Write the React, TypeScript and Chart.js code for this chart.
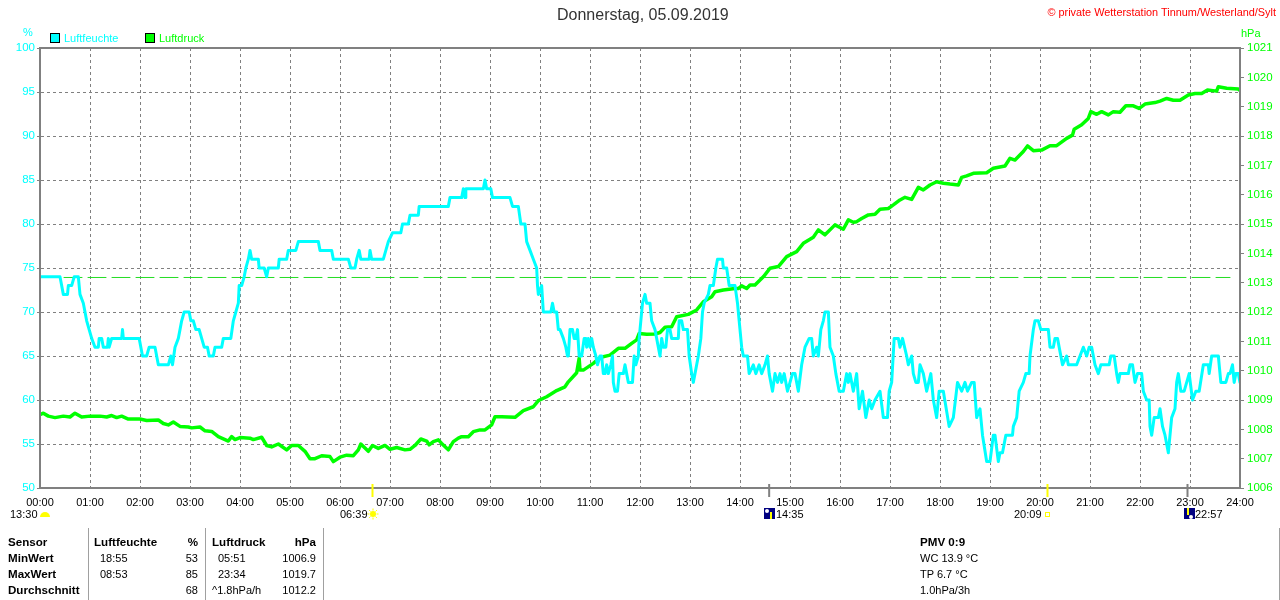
import { FC, ReactElement, useEffect, useRef } from 'react';
import { Chart, registerables } from 'chart.js';

Chart.register(...registerables);

// [minute of day, %]
const humidity: [number, number][] = [
  [0, 74], [24, 74], [28, 72], [33, 72], [34, 73], [38, 73], [41, 74], [46, 74], [48, 72], [52, 71], [56, 69], [62, 67], [66, 66],
  [70, 66], [71, 67], [74, 67], [76, 66], [81, 66], [82, 67], [83, 66], [86, 67], [98, 67], [99, 68], [100, 67], [119, 67],
  [123, 65], [128, 65], [131, 66], [138, 66], [142, 64], [154, 64], [157, 65], [159, 64], [162, 66], [166, 67], [168, 68],
  [170, 69], [173, 70], [179, 70], [181, 69], [184, 69], [187, 68], [191, 68], [194, 67], [197, 66], [201, 66], [203, 65],
  [208, 65], [210, 66], [218, 66], [220, 67], [229, 67], [232, 69], [235, 70], [238, 71], [239, 73], [242, 73], [245, 74],
  [247, 75], [250, 76], [252, 77], [254, 76], [262, 76], [263, 75], [269, 75], [272, 74], [274, 75], [286, 75], [287, 76],
  [296, 76], [298, 77], [307, 77], [310, 78], [334, 78], [336, 77], [350, 77], [352, 76], [370, 76], [373, 75], [378, 75],
  [380, 76], [383, 77], [385, 76], [395, 76], [396, 77], [398, 76], [412, 76], [415, 77], [418, 78], [423, 79], [433, 79],
  [435, 80], [442, 80], [444, 81], [454, 81], [455, 82], [490, 82], [492, 83], [506, 83], [508, 84], [510, 83], [511, 84],
  [532, 84], [534, 85], [536, 84], [541, 84], [543, 83], [564, 83], [567, 82], [574, 82], [577, 80], [582, 80], [584, 78],
  [588, 77], [592, 76], [596, 75], [597, 73], [598, 72], [602, 73], [604, 70], [613, 70], [615, 71], [617, 70], [620, 70],
  [622, 68], [624, 68], [628, 67], [631, 66], [633, 65], [634, 65], [636, 68], [639, 68], [641, 67], [643, 67], [645, 68],
  [647, 65], [650, 65], [653, 67], [655, 67], [656, 66], [658, 67], [660, 66], [662, 67], [664, 66], [667, 65], [669, 64],
  [672, 65], [674, 65], [676, 63], [678, 63], [680, 64], [682, 63], [685, 64], [687, 65], [688, 62], [690, 61], [693, 61],
  [695, 63], [700, 63], [702, 64], [704, 63], [706, 62], [711, 62], [713, 65], [715, 64], [718, 65], [719, 67], [721, 69],
  [723, 71], [726, 72], [728, 71], [732, 71], [734, 69], [738, 68], [742, 66], [744, 65], [746, 67], [748, 66], [751, 66],
  [753, 68], [756, 68], [758, 67], [766, 67], [767, 69], [770, 69], [772, 68], [777, 68], [779, 65], [782, 63], [784, 62],
  [786, 63], [790, 65], [793, 67], [795, 70], [797, 71], [802, 72], [804, 73], [808, 73], [811, 75], [813, 76], [819, 76],
  [820, 75], [824, 75], [827, 73], [834, 73], [837, 71], [839, 69], [842, 66], [844, 65], [846, 65], [849, 65], [851, 63],
  [856, 64], [859, 63], [863, 64], [866, 63], [870, 64], [873, 65], [875, 63], [879, 61], [882, 63], [885, 62], [888, 63],
  [890, 62], [893, 63], [897, 61], [900, 62], [903, 63], [906, 63], [910, 61], [914, 64], [918, 66], [923, 67], [926, 67],
  [928, 65], [932, 66], [934, 65], [937, 68], [940, 69], [942, 70], [946, 70], [948, 66], [952, 65], [955, 63], [959, 61],
  [964, 61], [968, 63], [970, 62], [972, 63], [976, 61], [980, 63], [983, 59], [987, 61], [991, 58], [995, 60], [998, 59],
  [1002, 60], [1008, 61], [1012, 58], [1017, 58], [1019, 61], [1022, 62], [1025, 67], [1030, 67], [1032, 66], [1035, 67],
  [1040, 65], [1042, 64], [1046, 65], [1048, 63], [1051, 62], [1054, 62], [1056, 64], [1060, 63], [1064, 61], [1069, 63],
  [1072, 60], [1076, 58], [1079, 61], [1084, 61], [1091, 57], [1096, 58], [1101, 62], [1106, 61], [1110, 62], [1113, 61],
  [1118, 62], [1121, 62], [1124, 58], [1128, 59], [1131, 56], [1136, 53], [1140, 53], [1144, 56], [1146, 56], [1150, 53],
  [1152, 54], [1155, 54], [1159, 56], [1167, 56], [1168, 57], [1172, 58], [1175, 61], [1180, 62], [1183, 63], [1187, 63],
  [1188, 65], [1192, 68], [1194, 69], [1198, 69], [1201, 68], [1210, 68], [1212, 66], [1216, 66], [1218, 67], [1221, 67],
  [1225, 65], [1227, 64], [1232, 65], [1234, 64], [1244, 64], [1248, 65], [1252, 66], [1256, 65], [1259, 66], [1262, 66],
  [1266, 64], [1270, 63], [1273, 64], [1283, 64], [1285, 65], [1289, 65], [1292, 63], [1294, 62], [1296, 63], [1306, 63],
  [1308, 64], [1311, 64], [1314, 62], [1317, 63], [1322, 63], [1324, 61], [1328, 60], [1331, 60], [1332, 57], [1334, 56],
  [1337, 58], [1342, 58], [1344, 59], [1347, 57], [1350, 56], [1354, 54], [1358, 58], [1362, 59], [1364, 62], [1366, 63],
  [1369, 61], [1373, 61], [1376, 62], [1379, 63], [1383, 60], [1387, 61], [1391, 61], [1396, 64], [1402, 64], [1403, 63],
  [1406, 65], [1414, 65], [1417, 62], [1423, 62], [1426, 63], [1428, 63], [1431, 64], [1433, 62], [1435, 63], [1438, 63],
  [1440, 62]
];

// [minute of day, hPa]
const pressure: [number, number][] = [
  [0, 1008.5], [4, 1008.55], [10, 1008.45], [18, 1008.4], [28, 1008.45], [36, 1008.42], [42, 1008.55], [50, 1008.42],
  [60, 1008.45], [72, 1008.45], [80, 1008.42], [86, 1008.47], [92, 1008.4], [98, 1008.45], [106, 1008.35], [120, 1008.35],
  [128, 1008.3], [142, 1008.32], [148, 1008.2], [154, 1008.15], [160, 1008.25], [168, 1008.1], [178, 1008.08], [182, 1008.05],
  [192, 1008.08], [198, 1007.95], [206, 1007.93], [214, 1007.75], [226, 1007.6], [230, 1007.75], [234, 1007.65], [240, 1007.72],
  [252, 1007.7], [256, 1007.65], [266, 1007.73], [272, 1007.45], [278, 1007.4], [286, 1007.5], [296, 1007.3], [302, 1007.45],
  [310, 1007.45], [318, 1007.25], [324, 1007.0], [330, 1007.0], [338, 1007.1], [348, 1007.07], [352, 1006.9], [360, 1007.05],
  [368, 1007.12], [376, 1007.1], [382, 1007.3], [385, 1007.5], [394, 1007.25], [399, 1007.45], [406, 1007.35], [414, 1007.45],
  [420, 1007.32], [428, 1007.38], [438, 1007.3], [444, 1007.32], [450, 1007.45], [457, 1007.67], [464, 1007.6], [467, 1007.47],
  [472, 1007.58], [478, 1007.64], [482, 1007.52], [490, 1007.3], [496, 1007.58], [502, 1007.7], [506, 1007.75], [514, 1007.75],
  [520, 1007.92], [528, 1007.98], [534, 1007.98], [542, 1008.15], [546, 1008.43], [554, 1008.43], [570, 1008.41], [580, 1008.64],
  [592, 1008.77], [598, 1008.98], [608, 1009.11], [620, 1009.32], [630, 1009.45], [634, 1009.62], [644, 1009.93], [647, 1010.42],
  [648, 1010.02], [652, 1010.02], [664, 1010.25], [672, 1010.45], [684, 1010.53], [694, 1010.76], [702, 1010.76], [710, 1010.93],
  [716, 1011.05], [719, 1011.27], [728, 1011.24], [738, 1011.25], [744, 1011.3], [750, 1011.48], [758, 1011.5], [764, 1011.84],
  [778, 1011.92], [788, 1012.07], [796, 1012.35], [806, 1012.52], [810, 1012.69], [820, 1012.75], [834, 1012.8], [838, 1012.8],
  [842, 1012.89], [848, 1012.8], [852, 1012.92], [858, 1012.92], [868, 1013.2], [876, 1013.49], [886, 1013.55], [896, 1013.89],
  [908, 1014.06], [916, 1014.34], [928, 1014.55], [934, 1014.8], [942, 1014.63], [954, 1014.97], [964, 1014.82], [970, 1015.14],
  [976, 1015.06], [980, 1015.08], [986, 1015.19], [994, 1015.31], [1002, 1015.33], [1008, 1015.5], [1018, 1015.53], [1024, 1015.65],
  [1032, 1015.82], [1038, 1015.91], [1046, 1015.84], [1054, 1016.25], [1060, 1016.16], [1068, 1016.33], [1076, 1016.44],
  [1084, 1016.39], [1092, 1016.36], [1102, 1016.33], [1106, 1016.59], [1112, 1016.64], [1120, 1016.73], [1136, 1016.75],
  [1144, 1016.9], [1158, 1016.98], [1164, 1017.24], [1170, 1017.18], [1180, 1017.47], [1185, 1017.66], [1192, 1017.5],
  [1202, 1017.52], [1212, 1017.67], [1220, 1017.67], [1232, 1017.92], [1239, 1018.03], [1241, 1018.23], [1250, 1018.38],
  [1258, 1018.6], [1261, 1018.83], [1268, 1018.74], [1274, 1018.83], [1282, 1018.72], [1288, 1018.83], [1296, 1018.81],
  [1303, 1019.03], [1312, 1019.03], [1319, 1018.94], [1326, 1019.09], [1338, 1019.14], [1344, 1019.19], [1352, 1019.28],
  [1360, 1019.22], [1368, 1019.22], [1378, 1019.4], [1386, 1019.45], [1394, 1019.45], [1401, 1019.57], [1412, 1019.53],
  [1414, 1019.68], [1424, 1019.63], [1438, 1019.6], [1440, 1019.55]
];

const referenceLine: [number, number][] = [[0, 1013.177], [1428, 1013.177]];
const sunMoonTicks = [
  { minute: 399, color: '#ffff00' },
  { minute: 875, color: '#808080' },
  { minute: 1209, color: '#ffff00' },
  { minute: 1377, color: '#808080' }
];

const GREY = '#808080';
const FONT = "'Liberation Sans', Arial, sans-serif";

const toPoints = (rows: [number, number][]) => rows.map(([x, y]) => ({ x, y }));
const hourLabel = (minute: number): string => `${String(minute / 60).padStart(2, '0')}:00`;

// frame, sun/moon ticks and the little icons under the axis
const framePlugin = {
  id: 'frame',
  afterDraw(chart: any) {
    const { ctx, chartArea: a, scales } = chart;
    ctx.save();
    ctx.strokeStyle = GREY;
    ctx.lineWidth = 2;
    ctx.strokeRect(a.left, a.top, a.right - a.left, a.bottom - a.top);
    sunMoonTicks.forEach((t) => {
      const px = scales.x.getPixelForValue(t.minute);
      ctx.fillStyle = t.color;
      ctx.fillRect(px - 1, a.bottom - 4, 2, 13);
    });

    ctx.fillStyle = '#ffff00';
    ctx.beginPath();
    ctx.arc(45, 517, 5, Math.PI, 0);
    ctx.fill();
    ctx.beginPath();
    ctx.arc(373, 514, 3, 0, Math.PI * 2);
    ctx.fill();
    ctx.strokeStyle = '#ffff00';
    ctx.lineWidth = 1;
    for (let i = 0; i < 8; i++) {
      const r = (i * Math.PI) / 4;
      ctx.beginPath();
      ctx.moveTo(373 + Math.cos(r) * 3.5, 514 + Math.sin(r) * 3.5);
      ctx.lineTo(373 + Math.cos(r) * 5.5, 514 + Math.sin(r) * 5.5);
      ctx.stroke();
    }
    ctx.strokeRect(1045.5, 512.5, 4, 4);

    [764, 1184].forEach((x, i) => {
      ctx.fillStyle = '#000080';
      ctx.fillRect(x, 508, 11, 11);
      ctx.fillStyle = '#ffffff';
      ctx.beginPath();
      ctx.arc(i === 0 ? x + 3 : x + 7, i === 0 ? 511 : 517, 2, 0, Math.PI * 2);
      ctx.fill();
      ctx.fillStyle = '#ffff00';
      ctx.fillRect(x + 6 - i * 3, i === 0 ? 512 : 508, 2, 7);
    });
    ctx.restore();
  }
};

const Txt: FC<{ x?: number; right?: number; y: number; size?: number; bold?: boolean; color?: string; text: string }> = ({
  x,
  right,
  y,
  size = 11,
  bold = false,
  color = '#000000',
  text
}): ReactElement => (
  <div
    style={{
      position: 'absolute',
      left: x,
      right: right !== undefined ? 1280 - right : undefined,
      top: y,
      transform: 'translateY(-50%)',
      font: `${bold ? 'bold ' : ''}${size}px ${FONT}`,
      color,
      whiteSpace: 'nowrap'
    }}
  >
    {text}
  </div>
);

const Swatch: FC<{ x: number; color: string }> = ({ x, color }): ReactElement => (
  <div
    style={{
      position: 'absolute',
      left: x,
      top: 33,
      width: 8,
      height: 8,
      background: color,
      border: '1px solid #000000'
    }}
  />
);

const App: FC = (): ReactElement => {
  const chartRef = useRef<HTMLCanvasElement | null>(null);

  useEffect(() => {
    if (!chartRef.current) return;
    const chart = new Chart(chartRef.current, {
      type: 'line',
      data: {
        datasets: [
          { label: 'Luftfeuchte', data: toPoints(humidity), yAxisID: 'y', borderColor: '#00ffff', borderWidth: 3 },
          { label: 'Luftdruck', data: toPoints(pressure), yAxisID: 'hpa', borderColor: '#00ff00', borderWidth: 3.5 },
          { label: 'Referenz', data: toPoints(referenceLine), yAxisID: 'hpa', borderColor: '#22dd22', borderWidth: 1, borderDash: [18, 6] }
        ]
      },
      options: {
        animation: false,
        responsive: false,
        devicePixelRatio: 1,
        layout: { padding: { top: 48 } },
        elements: { point: { radius: 0 }, line: { tension: 0, borderJoinStyle: 'round', borderCapStyle: 'round' } },
        plugins: { legend: { display: false }, title: { display: false }, tooltip: { enabled: false } },
        scales: {
          x: {
            type: 'linear',
            min: 0,
            max: 1440,
            afterFit: (s: any) => {
              s.height = 112;
            },
            ticks: {
              stepSize: 60,
              autoSkip: false,
              maxRotation: 0,
              padding: 8,
              color: '#000000',
              font: { family: FONT, size: 11 },
              callback: (v: any) => hourLabel(Number(v))
            },
            grid: { color: GREY, drawTicks: false, lineWidth: 1 },
            border: { color: GREY, width: 2, dash: [3, 3] }
          },
          y: {
            position: 'left',
            min: 50,
            max: 100,
            afterFit: (s: any) => {
              s.width = 40;
            },
            ticks: {
              stepSize: 5,
              padding: 2,
              color: '#00ffff',
              font: { family: FONT, size: 11.5 }
            },
            grid: { color: GREY, tickColor: GREY, tickLength: 3, lineWidth: 1 },
            border: { color: GREY, width: 2, dash: [3, 3] }
          },
          hpa: {
            position: 'right',
            min: 1006,
            max: 1021,
            afterFit: (s: any) => {
              s.width = 40;
            },
            ticks: {
              stepSize: 1,
              padding: 3,
              color: '#00ff00',
              font: { family: FONT, size: 11.5 },
              callback: (v: any) => String(v)
            },
            grid: { drawOnChartArea: false, tickColor: GREY, tickLength: 4 },
            border: { color: GREY, width: 2 }
          }
        }
      } as any,
      plugins: [framePlugin]
    });

    return () => {
      chart.destroy();
    };
  }, []);

  return (
    <div style={{ position: 'fixed', left: 0, top: 0, width: 1280, height: 600, overflow: 'hidden', background: '#ffffff' }}>
      <canvas ref={chartRef} width={1280} height={600} style={{ position: 'absolute', left: 0, top: 0 }} />

      <Txt x={557} y={15} size={16} color="#333333" text="Donnerstag, 05.09.2019" />
      <Txt right={1276} y={12} size={10.9} color="#ff0000" text="© private Wetterstation Tinnum/Westerland/Sylt" />
      <Txt x={23} y={32} color="#00ffff" text="%" />
      <Txt x={1241} y={33} color="#00ff00" text="hPa" />
      <Swatch x={50} color="#00ffff" />
      <Txt x={64} y={38} color="#00ffff" text="Luftfeuchte" />
      <Swatch x={145} color="#00ff00" />
      <Txt x={159} y={38} color="#00ff00" text="Luftdruck" />

      <Txt x={10} y={514} text="13:30" />
      <Txt x={340} y={514} text="06:39" />
      <Txt x={776} y={514} text="14:35" />
      <Txt x={1014} y={514} text="20:09" />
      <Txt x={1195} y={514} text="22:57" />

      {[88, 205, 323, 1279].map((x) => (
        <div key={x} style={{ position: 'absolute', left: x, top: 528, width: 1, height: 72, background: '#a0a0a0' }} />
      ))}

      <Txt x={8} y={541} bold size={11.6} text="Sensor" />
      <Txt x={8} y={557} bold size={11.6} text="MinWert" />
      <Txt x={8} y={573} bold size={11.6} text="MaxWert" />
      <Txt x={8} y={589} bold size={11.6} text="Durchschnitt" />

      <Txt x={94} y={541} bold size={11.6} text="Luftfeuchte" />
      <Txt right={198} y={541} bold size={11.6} text="%" />
      <Txt x={100} y={558} text="18:55" />
      <Txt right={198} y={558} text="53" />
      <Txt x={100} y={574} text="08:53" />
      <Txt right={198} y={574} text="85" />
      <Txt right={198} y={590} text="68" />

      <Txt x={212} y={541} bold size={11.6} text="Luftdruck" />
      <Txt right={316} y={541} bold size={11.6} text="hPa" />
      <Txt x={218} y={558} text="05:51" />
      <Txt right={316} y={558} text="1006.9" />
      <Txt x={218} y={574} text="23:34" />
      <Txt right={316} y={574} text="1019.7" />
      <Txt x={212} y={590} text="^1.8hPa/h" />
      <Txt right={316} y={590} text="1012.2" />

      <Txt x={920} y={541} bold size={11.6} text="PMV 0:9" />
      <Txt x={920} y={558} text="WC 13.9 °C" />
      <Txt x={920} y={574} text="TP 6.7 °C" />
      <Txt x={920} y={590} text="1.0hPa/3h" />
    </div>
  );
};

export default App;
